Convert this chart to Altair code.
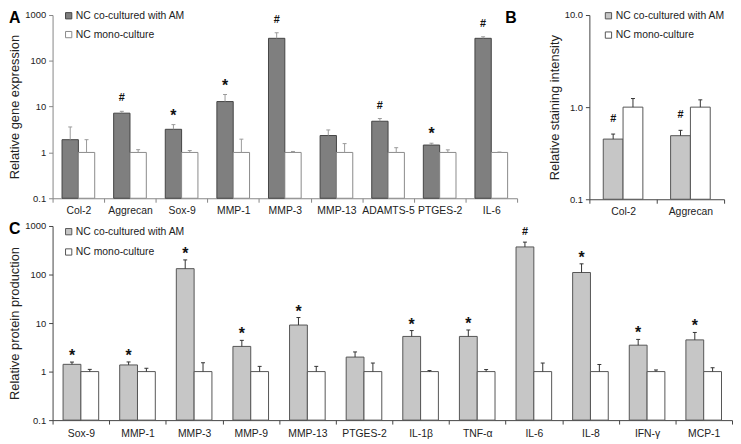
import altair as alt
import pandas as pd

FONT = "Liberation Sans, Arial, sans-serif"
CO = "NC co-cultured with AM"
MONO = "NC mono-culture"

# ---- Panel A: relative gene expression ----
A_genes = ["Col-2", "Aggrecan", "Sox-9", "MMP-1", "MMP-3", "MMP-13", "ADAMTS-5", "PTGES-2", "IL-6"]
A_co = [1.9, 7.2, 3.2, 12.9, 310, 2.34, 4.8, 1.45, 310]
A_co_up = [3.6, 7.9, 4.05, 18.4, 410, 3.1, 5.5, 1.59, 335]
A_mono = [1, 1, 1, 1, 1, 1, 1, 1, 1]
A_mono_up = [1.9, 1.15, 1.1, 1.95, 1.05, 1.56, 1.27, 1.14, 1.02]
A_marks = ["", "#", "*", "*", "#", "", "#", "*", "#"]

# ---- Panel B: relative staining intensity ----
B_genes = ["Col-2", "Aggrecan"]
B_co = [0.45, 0.49]
B_co_up = [0.51, 0.56]
B_mono = [1.0, 1.0]
B_mono_up = [1.24, 1.2]
B_marks = ["#", "#"]

# ---- Panel C: relative protein production ----
C_genes = ["Sox-9", "MMP-1", "MMP-3", "MMP-9", "MMP-13", "PTGES-2",
           "IL-1\u03b2", "TNF-\u03b1", "IL-6", "IL-8", "IFN-\u03b3", "MCP-1"]
C_co = [1.41, 1.37, 132, 3.3, 9.1, 1.99, 5.3, 5.3, 370, 110, 3.5, 4.5]
C_co_up = [1.57, 1.58, 200, 4.4, 13, 2.54, 7.0, 7.2, 465, 166, 4.6, 6.4]
C_mono = [1, 1, 1, 1, 1, 1, 1, 1, 1, 1, 1, 1]
C_mono_up = [1.11, 1.17, 1.52, 1.28, 1.28, 1.5, 1.05, 1.1, 1.5, 1.4, 1.08, 1.2]
C_marks = ["*", "*", "*", "*", "*", "", "*", "*", "#", "*", "*", "*"]


def make_df(genes, co, co_up, mono, mono_up, marks):
    rows = []
    for i, g in enumerate(genes):
        rows.append(dict(gene=g, group=CO, value=co[i], upper=co_up[i], mark=marks[i]))
        rows.append(dict(gene=g, group=MONO, value=mono[i], upper=mono_up[i], mark=""))
    return pd.DataFrame(rows)


def panel(df, genes, width, height, ydom, yvals, yfmt, ytitle, fills, strokes,
          errcolor, axiscolor, offpad, legx, legy, rowpad, star_dy, hash_dy,
          letters, xlabpad):
    x = alt.X("gene:N", sort=genes,
              scale=alt.Scale(domain=genes, paddingInner=0, paddingOuter=0),
              axis=alt.Axis(title=None, labelAngle=0, tickBand="extent",
                            domainColor=axiscolor, tickColor=axiscolor, tickSize=4,
                            labelFontSize=10.5, labelPadding=xlabpad,
                            labelColor="#222", labelFont=FONT))
    xo = alt.XOffset("group:N", sort=[CO, MONO],
                     scale=alt.Scale(domain=[CO, MONO], paddingOuter=offpad, paddingInner=0))
    yaxis = alt.Axis(values=yvals, format=yfmt, title=ytitle, grid=False,
                     domainColor=axiscolor, tickColor=axiscolor, tickSize=4,
                     labelFontSize=9.5, labelPadding=3, labelColor="#222", labelFont=FONT,
                     titleFontSize=13, titleFontWeight="normal", titleFont=FONT,
                     titleColor="#222", titlePadding=3)
    yscale = alt.Scale(type="log", domain=ydom)
    yv = alt.Y("value:Q", scale=yscale, axis=yaxis)
    yu = alt.Y("upper:Q", scale=yscale, axis=yaxis)

    base = alt.Chart(df)
    bars = base.mark_bar(strokeWidth=1).encode(
        x=x, xOffset=xo, y=yv, y2=alt.datum(ydom[0]),
        fill=alt.Fill("group:N", scale=alt.Scale(domain=[CO, MONO], range=fills),
                      legend=alt.Legend(title=None, orient="none", legendX=legx, legendY=legy,
                                        direction="vertical", symbolType="square",
                                        symbolSize=40, symbolStrokeWidth=1,
                                        symbolStrokeColor="#555",
                                        labelFontSize=10.5, labelFont=FONT,
                                        labelColor="#222", rowPadding=rowpad,
                                        labelOffset=2, padding=0)),
        stroke=alt.Stroke("group:N", scale=alt.Scale(domain=[CO, MONO], range=strokes),
                          legend=None),
    )
    err = base.mark_rule(color=errcolor, strokeWidth=1).encode(
        x=x, xOffset=xo, y=yv, y2="upper:Q")
    cap = base.mark_point(shape="M-1,0L1,0", size=16, filled=False,
                          color=errcolor, strokeWidth=1, opacity=1).encode(
        x=x, xOffset=xo, y=yu)
    stars = base.transform_filter(alt.datum.mark == "*").mark_text(
        dy=star_dy, fontSize=16, fontWeight="bold", font=FONT, color="#111").encode(
        x=x, xOffset=xo, y=yu, text="mark:N")
    hashes = base.transform_filter(alt.datum.mark == "#").mark_text(
        dy=hash_dy, fontSize=11, fontWeight="bold", font=FONT, color="#111").encode(
        x=x, xOffset=xo, y=yu, text="mark:N")
    layers = [bars, err, cap, stars, hashes]
    for (lt, lx, ly) in letters:
        layers.append(
            alt.Chart(pd.DataFrame({"letter": [lt]})).mark_text(
                align="left", baseline="top", fontSize=16, fontWeight="bold",
                font=FONT, color="#000").encode(
                x=alt.value(lx), y=alt.value(ly), text="letter:N"))
    return alt.layer(*layers).properties(width=width, height=height)


A = panel(make_df(A_genes, A_co, A_co_up, A_mono, A_mono_up, A_marks), A_genes,
          469, 185, [0.1, 1000], [0.1, 1, 10, 100, 1000], "~g",
          "Relative gene expression", ["#7f7f7f", "#ffffff"], ["#444444", "#8a8a8a"],
          "#9a9a9a", "#868686", 0.58, 11, -4.5, 8, -9, -13,
          [("A", -44, -4.5), ("B", 457, -4.5)], 3)

B = panel(make_df(B_genes, B_co, B_co_up, B_mono, B_mono_up, B_marks), B_genes,
          136, 186, [0.1, 10], [0.1, 1, 10], ".1f",
          "Relative staining intensity", ["#c6c6c6", "#ffffff"], ["#555555", "#555555"],
          "#333333", "#444444", 0.7, 14, -4.5, 8.5, -9, -15, [], 3)

C = panel(make_df(C_genes, C_co, C_co_up, C_mono, C_mono_up, C_marks), C_genes,
          686, 196, [0.1, 1000], [0.1, 1, 10, 100, 1000], "~g",
          "Relative protein production", ["#c6c6c6", "#ffffff"], ["#555555", "#555555"],
          "#333333", "#444444", 0.59, 11, 0.5, 9.5, -6, -10,
          [("C", -44, -5)], 5)

top = alt.hconcat(A, B, spacing=30).resolve_scale(
    fill="independent", stroke="independent", x="independent", y="independent",
    xOffset="independent").resolve_legend(fill="independent", stroke="independent")

chart = alt.vconcat(top, C, spacing=4).resolve_scale(
    fill="independent", stroke="independent", x="independent", y="independent",
    xOffset="independent").resolve_legend(fill="independent", stroke="independent").properties(
    padding={"left": 0, "top": 0, "right": 0, "bottom": 0},
    background="#ffffff").configure_view(stroke=None)

chart.save("out.html", embed_options={"renderer": "svg", "actions": False})
